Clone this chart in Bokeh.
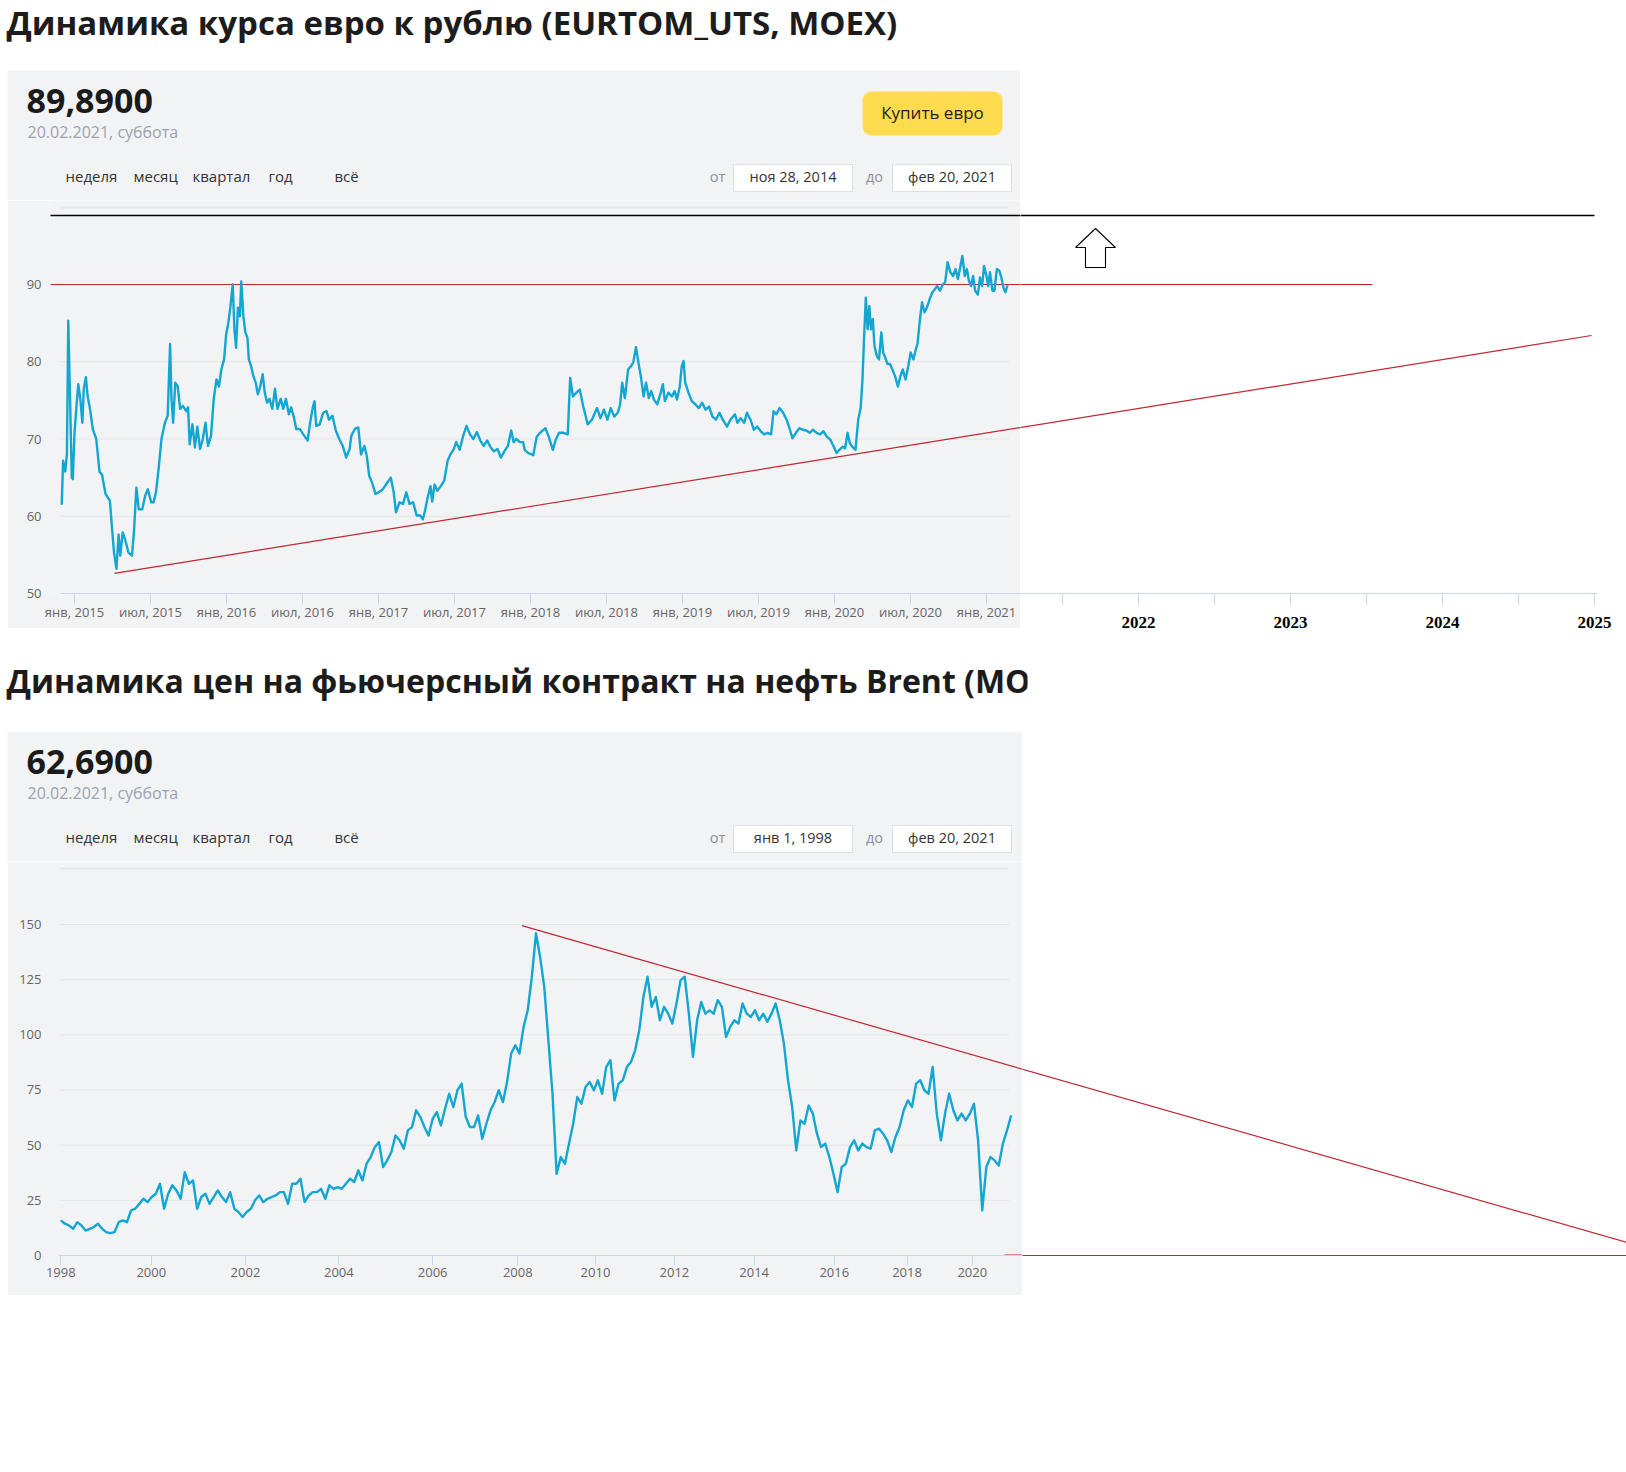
from bokeh.plotting import figure
from bokeh.layouts import column, row
from bokeh.models import Range1d, FixedTicker, Label, BoxAnnotation, Spacer
from bokeh.core.properties import value
from bokeh.embed import file_html
from bokeh.resources import INLINE

# ---------------- texts ----------------
eur_title = "Динамика курса евро к рублю (EURTOM_UTS, MOEX)"
brent_title = "Динамика цен на фьючерсный контракт на нефть Brent (MOEX)"
eur_last = "89,8900"
brent_last = "62,6900"
quote_date = "20.02.2021, суббота"
periods = ["неделя", "месяц", "квартал", "год", "всё"]
eur_from, eur_to = "ноя 28, 2014", "фев 20, 2021"
brent_from, brent_to = "янв 1, 1998", "фев 20, 2021"
buy_label = "Купить евро"
from_word, to_word = "от", "до"

# ---------------- EUR/RUB data (decimal year, rub) ----------------
eur_dates = [
    2014.916, 2014.925, 2014.939, 2014.950, 2014.959, 2014.971, 2014.982, 2014.989, 2015.000, 2015.016,
    2015.025, 2015.038, 2015.052, 2015.061, 2015.075, 2015.086, 2015.102, 2015.120, 2015.143, 2015.165,
    2015.181, 2015.204, 2015.233, 2015.249, 2015.260, 2015.276, 2015.290, 2015.301, 2015.317, 2015.333,
    2015.355, 2015.378, 2015.391, 2015.407, 2015.423, 2015.446, 2015.464, 2015.482, 2015.505, 2015.520,
    2015.536, 2015.554, 2015.572, 2015.595, 2015.613, 2015.629, 2015.638, 2015.649, 2015.663, 2015.679,
    2015.695, 2015.713, 2015.735, 2015.747, 2015.758, 2015.776, 2015.792, 2015.808, 2015.826, 2015.844,
    2015.862, 2015.878, 2015.898, 2015.916, 2015.934, 2015.950, 2015.966, 2015.984, 2015.998, 2016.011,
    2016.025, 2016.041, 2016.052, 2016.063, 2016.075, 2016.088, 2016.097, 2016.111, 2016.124, 2016.138,
    2016.147, 2016.161, 2016.176, 2016.192, 2016.206, 2016.222, 2016.238, 2016.251, 2016.267, 2016.283,
    2016.301, 2016.319, 2016.335, 2016.357, 2016.373, 2016.391, 2016.410, 2016.425, 2016.441, 2016.459,
    2016.482, 2016.505, 2016.534, 2016.550, 2016.568, 2016.579, 2016.590, 2016.613, 2016.636, 2016.658,
    2016.674, 2016.697, 2016.719, 2016.742, 2016.765, 2016.787, 2016.810, 2016.821, 2016.844, 2016.867,
    2016.885, 2016.907, 2016.923, 2016.939, 2016.957, 2016.980, 2017.002, 2017.029, 2017.059, 2017.081,
    2017.100, 2017.115, 2017.138, 2017.161, 2017.183, 2017.204, 2017.228, 2017.251, 2017.274, 2017.292,
    2017.308, 2017.323, 2017.342, 2017.353, 2017.369, 2017.387, 2017.410, 2017.432, 2017.455, 2017.473,
    2017.495, 2017.511, 2017.534, 2017.557, 2017.579, 2017.602, 2017.624, 2017.647, 2017.670, 2017.692,
    2017.715, 2017.738, 2017.760, 2017.783, 2017.805, 2017.828, 2017.851, 2017.873, 2017.889, 2017.907,
    2017.930, 2017.952, 2017.961, 2017.984, 2018.007, 2018.018, 2018.041, 2018.063, 2018.098, 2018.120,
    2018.147, 2018.166, 2018.188, 2018.218, 2018.245, 2018.261, 2018.279, 2018.302, 2018.324, 2018.347,
    2018.376, 2018.404, 2018.438, 2018.460, 2018.483, 2018.506, 2018.528, 2018.551, 2018.574, 2018.590,
    2018.603, 2018.621, 2018.642, 2018.660, 2018.676, 2018.694, 2018.710, 2018.726, 2018.744, 2018.760,
    2018.778, 2018.794, 2018.812, 2018.834, 2018.857, 2018.871, 2018.884, 2018.907, 2018.930, 2018.948,
    2018.964, 2018.982, 2018.995, 2019.007, 2019.018, 2019.039, 2019.061, 2019.084, 2019.107, 2019.129,
    2019.152, 2019.175, 2019.197, 2019.220, 2019.243, 2019.265, 2019.293, 2019.315, 2019.345, 2019.361,
    2019.383, 2019.406, 2019.424, 2019.447, 2019.469, 2019.492, 2019.515, 2019.537, 2019.560, 2019.583,
    2019.599, 2019.617, 2019.639, 2019.662, 2019.685, 2019.707, 2019.723, 2019.746, 2019.769, 2019.791,
    2019.814, 2019.837, 2019.859, 2019.882, 2019.905, 2019.927, 2019.950, 2019.973, 2019.995, 2020.014,
    2020.032, 2020.054, 2020.070, 2020.086, 2020.100, 2020.116, 2020.138, 2020.156, 2020.172, 2020.184,
    2020.195, 2020.206, 2020.218, 2020.229, 2020.240, 2020.252, 2020.263, 2020.279, 2020.293, 2020.308,
    2020.320, 2020.331, 2020.349, 2020.365, 2020.381, 2020.399, 2020.417, 2020.433, 2020.449, 2020.467,
    2020.485, 2020.501, 2020.519, 2020.535, 2020.546, 2020.562, 2020.576, 2020.592, 2020.608, 2020.626,
    2020.644, 2020.660, 2020.676, 2020.694, 2020.712, 2020.728, 2020.744, 2020.762, 2020.780, 2020.796,
    2020.812, 2020.825, 2020.841, 2020.857, 2020.871, 2020.884, 2020.898, 2020.912, 2020.925, 2020.943,
    2020.957, 2020.971, 2020.984, 2021.000, 2021.011, 2021.023, 2021.039, 2021.052, 2021.068, 2021.084,
    2021.098, 2021.111, 2021.125, 2021.138,
]
eur_values = [
    61.5, 67.2, 65.8, 68.0, 85.3, 75.0, 65.0, 64.8, 70.8, 75.0,
    77.1, 75.2, 72.1, 76.5, 78.0, 75.6, 73.9, 71.3, 70.0, 65.7,
    65.4, 62.9, 62.0, 57.9, 55.3, 53.2, 57.6, 54.9, 57.9, 57.0,
    55.3, 54.9, 57.9, 63.7, 60.9, 60.9, 62.6, 63.5, 61.8, 61.8,
    63.1, 66.3, 70.0, 72.1, 73.0, 82.3, 75.2, 72.1, 77.3, 76.8,
    73.9, 74.3, 73.6, 74.1, 69.3, 71.9, 68.9, 71.6, 68.7, 70.0,
    72.1, 69.1, 70.4, 75.2, 77.7, 76.8, 79.0, 80.3, 83.6, 84.9,
    87.0, 90.0, 84.2, 81.8, 87.0, 85.9, 90.4, 85.9, 83.8, 83.1,
    80.3, 79.5, 78.2, 77.3, 75.8, 76.8, 78.4, 76.1, 74.7, 75.2,
    73.9, 76.5, 73.9, 75.2, 73.9, 75.2, 73.2, 74.1, 73.0, 71.3,
    71.3, 70.6, 69.8, 72.1, 74.1, 74.9, 71.7, 71.9, 73.4, 73.6,
    72.5, 73.0, 71.1, 70.0, 69.1, 67.6, 68.7, 70.4, 71.3, 71.5,
    68.0, 69.1, 67.8, 65.2, 64.4, 62.9, 63.1, 63.5, 64.4, 65.0,
    63.1, 60.5, 61.8, 61.6, 63.1, 61.6, 61.8, 60.1, 60.1, 59.6,
    60.9, 62.4, 63.9, 61.9, 64.1, 63.3, 63.9, 64.6, 67.2, 68.0,
    68.7, 69.6, 68.6, 70.4, 71.7, 70.6, 70.0, 70.9, 69.8, 69.1,
    69.8, 68.9, 68.4, 68.7, 67.6, 68.4, 69.1, 71.1, 69.6, 70.0,
    69.6, 69.6, 68.6, 68.2, 68.0, 67.9, 70.3, 70.8, 71.4, 70.3,
    68.6, 69.9, 70.8, 70.8, 70.6, 77.9, 75.5, 76.0, 76.4, 74.2,
    71.9, 72.5, 74.0, 72.7, 73.8, 72.5, 74.0, 72.9, 73.4, 74.5,
    77.3, 75.3, 79.0, 79.4, 79.9, 81.9, 79.9, 78.1, 75.5, 77.3,
    75.3, 76.2, 75.1, 74.5, 76.0, 77.1, 74.9, 76.0, 75.5, 76.2,
    75.1, 76.8, 79.4, 80.1, 77.3, 76.0, 74.9, 74.5, 74.0, 74.7,
    73.8, 74.2, 72.9, 72.5, 73.4, 72.5, 71.6, 72.5, 73.2, 72.1,
    72.7, 72.1, 73.4, 72.5, 71.2, 71.6, 71.0, 70.6, 70.8, 70.6,
    73.6, 73.2, 74.0, 73.4, 72.5, 71.2, 70.1, 70.8, 71.4, 71.2,
    71.1, 70.8, 71.2, 70.8, 70.6, 71.0, 70.3, 69.9, 69.0, 68.2,
    68.6, 69.0, 68.8, 70.8, 69.5, 69.0, 68.6, 72.5, 74.0, 77.7,
    83.3, 88.3, 84.2, 87.2, 84.2, 85.5, 82.0, 80.7, 80.3, 83.8,
    81.2, 80.7, 79.7, 79.7, 79.0, 78.1, 76.8, 78.1, 79.0, 77.7,
    79.4, 81.2, 80.3, 81.6, 82.3, 85.5, 87.7, 86.4, 87.0, 88.1,
    89.0, 89.4, 89.8, 89.2, 90.0, 90.3, 92.9, 91.6, 91.1, 92.0,
    90.7, 92.0, 93.7, 91.1, 92.0, 90.5, 89.8, 91.1, 89.2, 88.7,
    90.9, 89.8, 92.4, 91.1, 89.8, 91.6, 89.2, 89.2, 92.0, 91.8,
    90.9, 89.6, 89.0, 89.9,
]
eur_tick_pos = [2015.0, 2015.5, 2016.0, 2016.5, 2017.0, 2017.5, 2018.0,
                2018.5, 2019.0, 2019.5, 2020.0, 2020.5, 2021.0]
eur_tick_labels = ["янв, 2015", "июл, 2015", "янв, 2016", "июл, 2016", "янв, 2017",
                   "июл, 2017", "янв, 2018", "июл, 2018", "янв, 2019", "июл, 2019",
                   "янв, 2020", "июл, 2020", "янв, 2021"]
eur_y_ticks = [50, 60, 70, 80, 90]
ext_tick_pos = [2021.5, 2022.0, 2022.5, 2023.0, 2023.5, 2024.0, 2024.5, 2025.0]
ext_tick_labels = ["", "2022", "", "2023", "", "2024", "", "2025"]
eur_level_x = [2014.84, 2023.539]
eur_level_y = [90, 90]
eur_trend_x = [2015.263, 2024.980]
eur_trend_y = [52.6, 83.4]
eur_mark_x = [2014.757, 2025.0]      # black line drawn above the chart
eur_mark_y = [98.93, 98.93]

# ---------------- Brent data (ordinal point index, usd) ----------------
brent_values = [
    15.9, 14.4, 13.6, 12.1, 15.1, 13.6, 11.3, 12.1, 12.9, 14.4,
    12.1, 10.6, 10.1, 10.6, 15.1, 15.9, 15.1, 20.4, 21.2, 23.4,
    25.7, 24.2, 26.5, 28.0, 32.5, 21.2, 28.0, 31.8, 29.5, 25.7,
    37.8, 32.5, 34.0, 21.2, 26.5, 28.0, 23.4, 26.5, 29.5, 26.5,
    24.2, 28.7, 21.2, 19.7, 17.4, 19.7, 21.2, 25.0, 27.2, 24.2,
    25.7, 26.5, 27.2, 28.7, 28.7, 23.4, 32.5, 32.5, 34.8, 24.2,
    27.2, 28.7, 28.7, 30.2, 25.7, 31.8, 30.2, 31.0, 30.2, 32.5,
    34.8, 33.3, 38.6, 34.0, 41.6, 44.6, 49.1, 51.4, 40.1, 43.1,
    46.9, 54.4, 52.2, 48.4, 56.7, 58.2, 65.8, 62.8, 58.2, 54.4,
    62.0, 65.0, 59.0, 66.5, 73.3, 67.3, 74.9, 77.9, 62.8, 58.2,
    58.2, 63.5, 52.9, 59.7, 65.8, 69.6, 74.9, 69.5, 78.6, 91.5,
    95.3, 91.5, 103.6, 111.1, 126.3,
    146.0, 135.3, 121.7, 97.5, 73.3, 37.0, 44.6, 41.6, 50.7, 59.7,
    71.8, 68.8, 76.4, 78.6, 74.9, 79.4, 73.3, 85.4, 88.5, 70.3,
    77.9, 79.4, 85.4, 87.7, 93.0, 102.1, 117.2, 126.3, 112.7, 117.2,
    106.6, 112.7, 109.6, 105.1, 114.2, 124.8, 126.3, 109.6, 90.0, 106.6,
    114.9, 109.6, 111.1, 109.6, 115.7, 112.7, 99.0, 103.6, 106.6, 105.1,
    114.2, 109.6, 108.1, 111.1, 106.6, 109.6, 105.9, 109.6, 114.2, 106.6,
    96.0, 79.4, 67.3, 47.6, 61.2, 59.7, 68.0, 64.3, 55.2, 49.1,
    50.7, 44.6, 37.0, 28.7, 40.1, 41.6, 49.1, 52.2, 47.6, 50.7,
    49.1, 48.4, 56.7, 57.5, 55.2, 52.2, 46.9, 53.7, 58.2, 65.8,
    70.3, 67.3, 77.9, 79.4, 74.9, 73.3, 85.4, 64.3, 52.2, 64.3,
    73.3, 65.8, 61.2, 64.3, 61.2, 64.3, 68.8, 52.2, 20.4, 40.1,
    44.6, 43.1, 40.8, 50.7, 56.7, 63.5,
]
brent_year_idx = [0.0, 21.9, 44.7, 67.3, 90.0, 110.6, 129.4, 148.5, 167.8, 187.2, 204.8, 220.6]
brent_year_labels = ["1998", "2000", "2002", "2004", "2006", "2008",
                     "2010", "2012", "2014", "2016", "2018", "2020"]
brent_y_ticks = [0, 25, 50, 75, 100, 125, 150]
brent_trend_x = [111.6, 390.0]
brent_trend_y = [149.5, 0.0]
brent_floor_x = [228.4, 420.0]
brent_floor_y = [0.0, 0.0]

# ---------------- styling / geometry (page px) ----------------
FONT = "Open Sans"
PANEL = "#f2f3f5"
LINE = "#12a7d2"
RED = "#c2272f"
AXIS = "#ccd6eb"
GRID = "#e2e5e9"
LBL = "#666666"
PANEL_L = 7          # grey panel left edge
HEAD_H = 130         # header strip height
BASE_K = 0.43        # alphabetic-baseline correction (fraction of font size)
PLOT_L, PLOT_R = 60, 1009   # horizontal extent of grid lines inside the panel

# top chart
T_TOP, T_AXIS, T_FL, T_SPLIT, T_FR, T_RIGHT = 70, 593, 50, 1020, 1597, 1618
T_CTOP = T_TOP + HEAD_H
T_PPX, T_PPY = 152.0, 7.725
t_x0 = 2015.0 - (74 - T_FL) / T_PPX
t_x1 = t_x0 + (T_SPLIT - T_FL) / T_PPX
t_x2 = t_x1 + (T_FR - T_SPLIT) / T_PPX
t_y0 = eur_y_ticks[0]
t_y1 = t_y0 + (T_AXIS - T_CTOP) / T_PPY


def tx(px):
    return t_x0 + (px - T_FL) / T_PPX


def ty(py):
    return t_y0 + (T_AXIS - py) / T_PPY


# bottom chart
B_TOP, B_AXIS, B_FL, B_SPLIT, B_FR = 731, 1255, 50, 1022, 1626
B_CTOP = B_TOP + HEAD_H
B_PPX, B_PPY = 4.132, 2.2067
b_x0 = -2.49
b_x1 = b_x0 + (B_SPLIT - B_FL) / B_PPX
b_x2 = b_x1 + (B_FR - B_SPLIT) / B_PPX
b_y1 = (B_AXIS - B_CTOP) / B_PPY
R2_FH = (B_AXIS - B_CTOP) + 22
b_y0_right = b_y1 - R2_FH / B_PPY


def bx(px):
    return b_x0 + (px - B_FL) / B_PPX


def by(py):
    return (B_AXIS - py) / B_PPY


def make_fig(fw, fh, xr, yr, fill, mbl=0, mbr=0, mbb=0, xaxis=None, yaxis=None):
    p = figure(frame_width=fw, frame_height=fh,
               x_range=Range1d(*xr), y_range=Range1d(*yr),
               x_axis_location=xaxis, y_axis_location=yaxis,
               output_backend="svg", toolbar_location=None,
               min_border_left=mbl, min_border_right=mbr,
               min_border_top=0, min_border_bottom=mbb)
    p.background_fill_color = fill
    p.border_fill_color = fill
    p.outline_line_color = None
    p.grid.visible = False
    return p


def title_fig(text, top, bottom, base, clip_w, size):
    # page-pixel coordinates: x = page x, y = -page y
    p = make_fig(clip_w, bottom - top, (0, clip_w), (-bottom, -top), "white",
                 mbr=T_RIGHT - clip_w if clip_w < T_RIGHT else 0)
    p.text(x=[6], y=[-(base - BASE_K * size)], text=[text], text_font=value(FONT),
           text_font_size="%dpx" % size, text_font_style="bold", text_color="#1c1c1c",
           text_baseline="alphabetic", text_align="left")
    return p


def style_chart_axes(p, yticks, xticks, xlabels, tick_out, x_standoff, gx0, gx1, x_lo):
    p.yaxis.ticker = FixedTicker(ticks=yticks)
    p.yaxis.axis_line_color = None
    p.yaxis.major_tick_line_color = None
    p.yaxis.minor_tick_line_color = None
    p.yaxis.major_label_standoff = 3
    p.yaxis.major_label_text_font = FONT
    p.yaxis.major_label_text_font_size = "13px"
    p.yaxis.major_label_text_color = LBL
    # horizontal grid lines, limited to the plotting area of the panel
    gy = list(yticks[1:])
    p.segment(x0=[gx0] * len(gy), x1=[gx1] * len(gy), y0=gy, y1=gy,
              line_color=GRID, line_width=1)
    p.xaxis.ticker = FixedTicker(ticks=xticks)
    p.xaxis.major_label_overrides = {float(k): v for k, v in zip(xticks, xlabels)}
    p.xaxis.bounds = (x_lo, p.x_range.end)
    p.xaxis.axis_line_color = AXIS
    p.xaxis.major_tick_line_color = AXIS
    p.xaxis.minor_tick_line_color = None
    p.xaxis.major_tick_in = 0
    p.xaxis.major_tick_out = tick_out
    p.xaxis.major_label_standoff = x_standoff
    p.xaxis.major_label_text_font = FONT
    p.xaxis.major_label_text_font_size = "13px"
    p.xaxis.major_label_text_color = LBL


def header_fig(top, right, last, d_from, d_to, button=None):
    # header strip of a panel, drawn in page-pixel coordinates (y = -page y)
    p = make_fig(right - PANEL_L, HEAD_H, (PANEL_L, right), (-(top + HEAD_H), -top), PANEL)

    def lab(px, py, text, size, color, style="normal", align="left"):
        p.add_layout(Label(x=px, y=-(py - BASE_K * size), text=text, text_font=FONT,
                           text_font_size="%gpx" % size, text_font_style=style,
                           text_color=color, text_align=align,
                           text_baseline="alphabetic"))

    def box(l, r, t, b, fill, line, radius):
        bb = BoxAnnotation(left=l, right=r, top=-t, bottom=-b,
                           fill_color=fill, fill_alpha=1.0,
                           line_color=line if line else "white",
                           line_alpha=1.0 if line else 0.0, line_width=1)
        try:
            bb.border_radius = radius
        except Exception:
            pass
        p.add_layout(bb)

    lab(26, top + 45, last, 34, "#1b1b1b", "bold")
    lab(27, top + 68.5, quote_date, 16, "#9aa3ae")
    for px, t in zip([65, 133, 192, 268, 334], periods):
        lab(px, top + 112, t, 15, "#333333")
    lab(717, top + 112, from_word, 14.5, "#8a9099", align="center")
    lab(874, top + 112, to_word, 14.5, "#8a9099", align="center")
    for (l, r), txt in [((733, 852), d_from), ((892, 1011), d_to)]:
        box(l, r, top + 94, top + 121, "white", "#dcdfe3", 0)
        lab((l + r) / 2, top + 112, txt, 14.5, "#333333", align="center")
    if button:
        box(862, 1002, top + 21, top + 65, "#ffdb4d", None, 9)
        lab(932, top + 49.5, button, 17, "#222222", align="center")
    return p


def gap():
    return Spacer(width=PANEL_L, height=1)


# ---------------- title 1 ----------------
title1 = title_fig(eur_title, 0, T_TOP, 36.5, T_RIGHT, 33)

# ---------------- EUR panel header ----------------
head1 = header_fig(T_TOP, T_SPLIT, eur_last, eur_from, eur_to, button=buy_label)

# ---------------- EUR chart, panel part ----------------
left1 = make_fig(T_SPLIT - T_FL, T_AXIS - T_CTOP, (t_x0, t_x1), (t_y0, t_y1), PANEL,
                 mbl=T_FL - PANEL_L, mbb=35, xaxis="below", yaxis="left")
style_chart_axes(left1, eur_y_ticks, eur_tick_pos, eur_tick_labels, 11, -2,
                 tx(PLOT_L), tx(PLOT_R), tx(PLOT_L))
left1.line([tx(PLOT_L), tx(1008)], [ty(T_TOP + 137)] * 2, line_color="#e4e6ea", line_width=2)
left1.line(eur_mark_x, eur_mark_y, line_color="black", line_width=1.3)
left1.line(eur_level_x, eur_level_y, line_color=RED, line_width=1.2)
left1.line(eur_trend_x, eur_trend_y, line_color=RED, line_width=1.2)
left1.line(eur_dates, eur_values, line_color=LINE, line_width=2.4, line_join="round")

# ---------------- EUR chart, extension part ----------------
right1 = make_fig(T_FR - T_SPLIT, T_AXIS - T_CTOP, (t_x1, t_x2), (t_y0, t_y1), "white",
                  mbr=T_RIGHT - T_FR, mbb=48, xaxis="below", yaxis=None)
ax = right1.xaxis[0]
ax.ticker = FixedTicker(ticks=ext_tick_pos)
ax.major_label_overrides = {float(k): v for k, v in zip(ext_tick_pos, ext_tick_labels)}
ax.axis_line_color = AXIS
ax.major_tick_line_color = AXIS
ax.minor_tick_line_color = None
ax.major_tick_in = 0
ax.major_tick_out = 12
ax.major_label_standoff = 11
ax.major_label_text_font = "Liberation Serif"
ax.major_label_text_font_style = "bold"
ax.major_label_text_font_size = "17px"
ax.major_label_text_color = "black"
right1.line(eur_mark_x, eur_mark_y, line_color="black", line_width=1.3)
right1.line(eur_level_x, eur_level_y, line_color=RED, line_width=1.2)
right1.line(eur_trend_x, eur_trend_y, line_color=RED, line_width=1.2)
# hollow "up" arrow drawn on the picture
arrow_cx, arrow_tip = tx(1095), ty(228)
head_w, shaft_w, head_h, total_h = 40 / T_PPX, 20 / T_PPX, 19 / T_PPY, 39 / T_PPY
ax_pts = [arrow_cx - head_w / 2, arrow_cx, arrow_cx + head_w / 2, arrow_cx + shaft_w / 2,
          arrow_cx + shaft_w / 2, arrow_cx - shaft_w / 2, arrow_cx - shaft_w / 2]
ay_pts = [arrow_tip - head_h, arrow_tip, arrow_tip - head_h, arrow_tip - head_h,
          arrow_tip - total_h, arrow_tip - total_h, arrow_tip - head_h]
right1.patch(ax_pts, ay_pts, fill_color="white", line_color="black", line_width=1.1)

# ---------------- title 2 ----------------
ROW1_BOTTOM = T_AXIS + 48
title2 = title_fig(brent_title, ROW1_BOTTOM, B_TOP, 694, 1027, 32)

# ---------------- Brent panel header ----------------
head2 = header_fig(B_TOP, B_SPLIT, brent_last, brent_from, brent_to)

# ---------------- Brent chart, panel part ----------------
brent_idx = list(range(len(brent_values)))
left2 = make_fig(B_SPLIT - B_FL, B_AXIS - B_CTOP, (b_x0, b_x1), (0, b_y1), PANEL,
                 mbl=B_FL - PANEL_L, mbb=40, xaxis="below", yaxis="left")
style_chart_axes(left2, brent_y_ticks, brent_year_idx, brent_year_labels, 10, 2,
                 bx(PLOT_L), bx(PLOT_R), bx(PLOT_L - 2))
left2.line([bx(PLOT_L), bx(1008)], [by(B_TOP + 137)] * 2, line_color="#e4e6ea", line_width=2)
left2.line(brent_trend_x, brent_trend_y, line_color=RED, line_width=1.2)
left2.line(brent_floor_x, brent_floor_y, line_color=RED, line_width=2)
left2.line(brent_idx, brent_values, line_color=LINE, line_width=2.4, line_join="round")

# ---------------- Brent chart, extension part ----------------
right2 = make_fig(B_FR - B_SPLIT, R2_FH, (b_x1, b_x2), (b_y0_right, b_y1), "white")
right2.line(brent_trend_x, brent_trend_y, line_color=RED, line_width=1.2)
right2.line(brent_floor_x, brent_floor_y, line_color=RED, line_width=1.2)

layout = column(
    title1,
    row(gap(), head1),
    row(gap(), left1, right1),
    title2,
    row(gap(), head2),
    row(gap(), left2, right2),
)

with open("out.html", "w", encoding="utf-8") as f:
    f.write(file_html(layout, INLINE))
